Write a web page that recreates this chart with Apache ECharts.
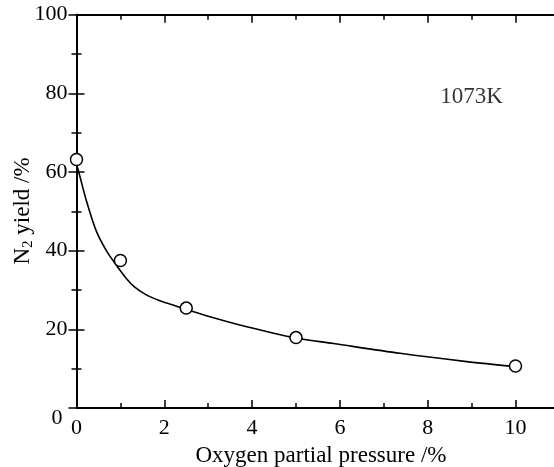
<!DOCTYPE html>
<html><head><meta charset="utf-8">
<script src="https://cdn.jsdelivr.net/npm/echarts@6/dist/echarts.min.js"></script>
<style>html,body{margin:0;padding:0;background:#fff}#c{width:554px;height:467px}</style>
</head><body><div id="c"></div>
<script>
// Measured points
const pointX = [0, 1, 2.5, 5, 10];
const pointY = [63.2, 37.5, 25.4, 17.9, 10.7];
// Fitted curve
const fitX = [0, 0.03, 0.22, 0.44, 0.67, 0.9, 1.13, 1.32, 1.6, 1.9, 2.2, 2.49, 3.1, 3.72, 4.35, 5.0, 5.85, 7.37, 8.89, 10];
const fitY = [61.8, 60.9, 52.9, 45.3, 40.2, 36.4, 33.0, 30.8, 28.7, 27.3, 26.2, 25.1, 23.0, 21.1, 19.4, 17.8, 16.4, 13.9, 11.8, 10.5];
// Annotation
const noteText = '1073K';
const notePos = [9.0, 79];
const xTitle = 'Oxygen partial pressure /%';
const yTitle = 'N{sub|2} yield /%';

const font = 'Liberation Serif';
const chart = echarts.init(document.getElementById('c'), null, {renderer: 'canvas'});
const lineStyle = {color: '#000', width: 2};
const baseX = {type: 'value', min: 0, max: 11, axisLine: {show: true, lineStyle}, splitLine: {show: false}};
chart.setOption({
  animation: false,
  grid: {left: 76.5, top: 14.7, right: -5.4, bottom: 59, containLabel: false, outerBoundsMode: 'none'},
  graphic: [{
    type: 'text', x: 23, y: 211, rotation: Math.PI / 2,
    style: {text: yTitle, fill: '#000', font: '23px "Liberation Serif"', align: 'center', verticalAlign: 'middle',
      rich: {sub: {fontFamily: font, fontSize: 15, fill: '#000', padding: [10, 0, 0, 0]}}}
  }],
  xAxis: [
    Object.assign({}, baseX, {position: 'bottom', interval: 2,
      axisTick: {inside: true, length: 8, lineStyle: {color: '#000', width: 1.5}},
      axisLabel: {showMaxLabel: false, margin: 9, color: '#000', fontFamily: font, fontSize: 22},
      name: xTitle, nameLocation: 'middle', nameGap: 36,
      nameTextStyle: {color: '#000', fontFamily: font, fontSize: 23, padding: [0, 0, 0, 6]}}),
    Object.assign({}, baseX, {position: 'bottom', interval: 1, axisLine: {show: false},
      axisTick: {inside: true, length: 5, lineStyle: {color: '#000', width: 1.5}}, axisLabel: {show: false}}),
    Object.assign({}, baseX, {position: 'top', interval: 2,
      axisTick: {inside: true, length: 8, lineStyle: {color: '#000', width: 1.5}}, axisLabel: {show: false}}),
    Object.assign({}, baseX, {position: 'top', interval: 1, axisLine: {show: false},
      axisTick: {inside: true, length: 5, lineStyle: {color: '#000', width: 1.5}}, axisLabel: {show: false}})
  ],
  yAxis: [
    {type: 'value', min: 0, max: 100, interval: 20, position: 'left',
      axisLine: {show: true, lineStyle}, splitLine: {show: false},
      axisTick: {inside: true, length: 8, lineStyle: {color: '#000', width: 1.5}},
      minorTick: {show: true, splitNumber: 2, length: 5, lineStyle: {color: '#000', width: 1.5}},
      axisLabel: {margin: 9, color: '#000', fontFamily: font, fontSize: 22,
        formatter: v => v === 0 ? '{z|0}' : String(v),
        rich: {z: {fontFamily: font, fontSize: 22, color: '#000', padding: [20, 5, 0, 0]}}}},
    {type: 'value', min: 0, max: 100, interval: 20, position: 'right',
      axisLine: {show: true, lineStyle}, splitLine: {show: false},
      axisTick: {inside: true, length: 8, lineStyle: {color: '#000', width: 1.5}},
      minorTick: {show: true, splitNumber: 2, length: 5, lineStyle: {color: '#000', width: 1.5}},
      axisLabel: {show: false}}
  ],
  series: [
    {type: 'line', smooth: 0.3, symbol: 'none', data: fitX.map((x, i) => [x, fitY[i]]),
      lineStyle: {color: '#000', width: 1.6}, z: 2},
    {type: 'scatter', data: pointX.map((x, i) => [x, pointY[i]]), symbol: 'circle', symbolSize: 12,
      itemStyle: {color: '#fff', borderColor: '#000', borderWidth: 1.5, opacity: 1}, z: 5},
    {type: 'scatter', data: [notePos], symbolSize: 0,
      label: {show: true, position: 'inside', formatter: noteText, color: '#000', fontFamily: font, fontSize: 23}}
  ]
});
</script></body></html>
